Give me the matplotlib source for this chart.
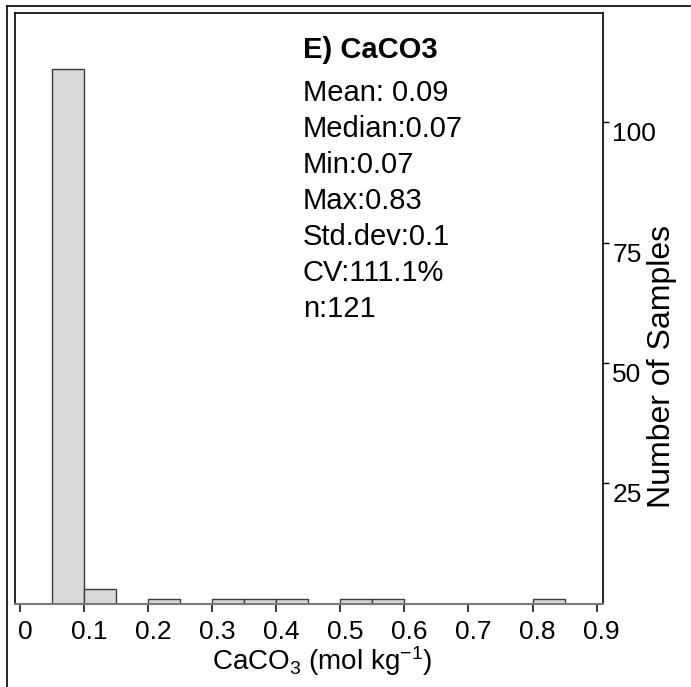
import matplotlib
matplotlib.use("Agg")
import matplotlib.pyplot as plt
from matplotlib.lines import Line2D
from matplotlib.transforms import ScaledTranslation

plt.rcParams['font.family'] = ['Liberation Sans', 'DejaVu Sans']
plt.rcParams['mathtext.fontset'] = 'custom'
plt.rcParams['mathtext.rm'] = 'Liberation Sans'
plt.rcParams['mathtext.it'] = 'Liberation Sans:italic'
plt.rcParams['mathtext.bf'] = 'Liberation Sans:bold'

# Histogram bins (left edges, width 0.05) and sample counts
bin_left = [0.05, 0.10, 0.15, 0.20, 0.25, 0.30, 0.35, 0.40, 0.45, 0.50,
            0.55, 0.60, 0.65, 0.70, 0.75, 0.80]
counts = [111, 3, 0, 1, 0, 1, 1, 1, 0, 1, 1, 0, 0, 0, 0, 1]
bin_width = 0.05

x_ticks = [0, 0.1, 0.2, 0.3, 0.4, 0.5, 0.6, 0.7, 0.8, 0.9]
x_tick_labels = ["0", "0.1", "0.2", "0.3", "0.4", "0.5", "0.6", "0.7", "0.8", "0.9"]
y_ticks = [25, 50, 75, 100]
y_tick_labels = ["25", "50", "75", "100"]

panel_title = "E) CaCO3"
stat_names = ["Mean: ", "Median:", "Min:", "Max:", "Std.dev:", "CV:", "n:"]
stat_values = ["0.09", "0.07", "0.07", "0.83", "0.1", "111.1%", "121"]

W, H = 691, 687
fig = plt.figure(figsize=(W / 100, H / 100), dpi=100)

def fx(px):
    return px / W

def fy(py):
    return 1 - py / H

ax = fig.add_axes([fx(14.7), fy(603.5), fx(602.7) - fx(14.7), fy(12.7) - fy(603.5)])

lefts = [l for l, c in zip(bin_left, counts) if c > 0]
heights = [c for c in counts if c > 0]
ax.bar(lefts, heights, width=bin_width, align='edge',
       color='#d9d9d9', edgecolor='#3a3a3a', linewidth=1.0, zorder=2)

ax.set_xlim(-0.0083, 0.9095)
ax.set_ylim(0, 122.8)

for side in ('left', 'top', 'right'):
    ax.spines[side].set_color('black')
    ax.spines[side].set_linewidth(1.2)
ax.spines['bottom'].set_color('#7a7a7a')
ax.spines['bottom'].set_linewidth(1.5)
ax.spines['bottom'].set_zorder(3)

ax.set_xticks(x_ticks)
ax.set_xticklabels(x_tick_labels)
ax.tick_params(axis='x', direction='out', length=6, width=1.1, color='black',
               labelsize=19, pad=6)
shift = ScaledTranslation(5 / 100, 0, fig.dpi_scale_trans)
for lab in ax.get_xticklabels():
    lab.set_transform(lab.get_transform() + shift)

ax.yaxis.tick_right()
ax.set_yticks(y_ticks)
ax.set_yticklabels(y_tick_labels)
ax.tick_params(axis='y', direction='out', length=4, width=1.0, color='black',
               labelsize=19, pad=3)
for lab in ax.get_yticklabels():
    lab.set_va('top')

fig.text(fx(322), fy(661), r"CaCO$_\mathrm{3}$ (mol kg$^\mathrm{-1}$)", fontsize=20,
         ha='center', va='center')
fig.text(fx(662), fy(366), "Number of Samples", fontsize=23,
         rotation=90, ha='center', va='center')

# Summary statistics block
text_x = fx(303)
fig.text(text_x, fy(50), panel_title, fontsize=21, fontweight='bold',
         ha='left', va='center')
for i, (name, val) in enumerate(zip(stat_names, stat_values)):
    fig.text(text_x, fy(93 + 36 * i), name + val, fontsize=21,
             ha='left', va='center')

# Outer frame lines
fig.add_artist(Line2D([fx(7.3), fx(7.3)], [0, fy(5.5)], color='black', lw=1.2))
fig.add_artist(Line2D([fx(7.3), fx(690)], [fy(5.5), fy(5.5)], color='black', lw=1.2))

fig.savefig("out.png", dpi=100)
